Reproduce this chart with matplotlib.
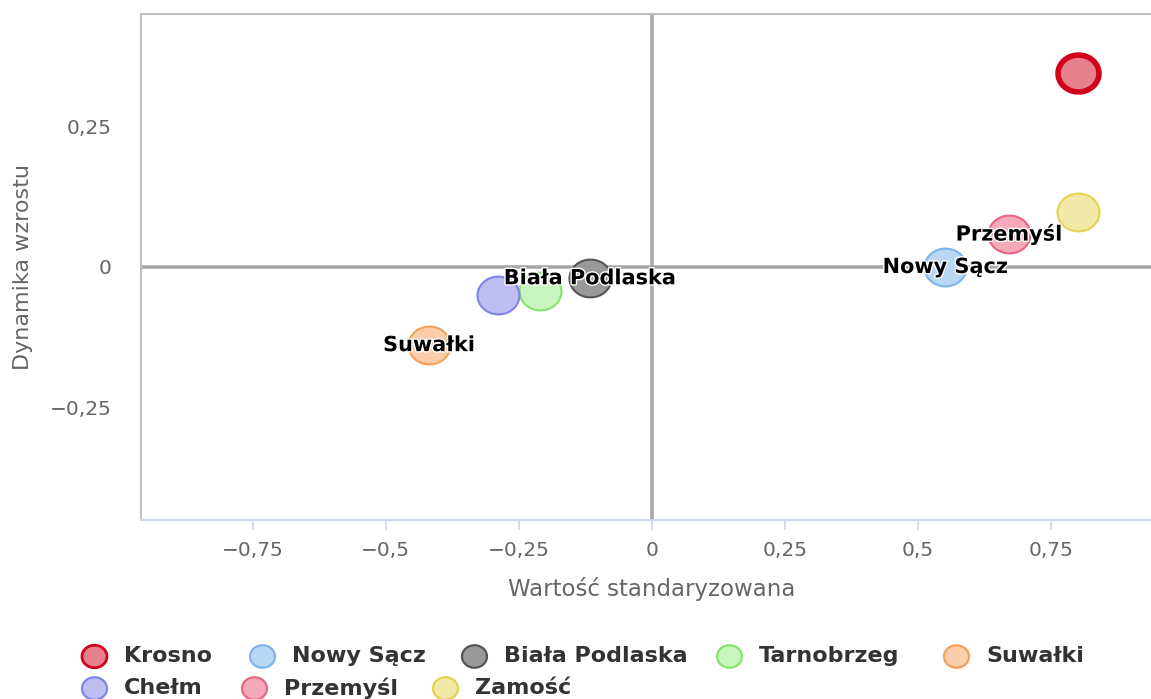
import matplotlib
matplotlib.use("Agg")
import matplotlib.pyplot as plt
from matplotlib.path import Path
from matplotlib.ticker import FixedLocator, FuncFormatter
import matplotlib.patheffects as pe
import numpy as np

# ---- data ----
names = ["Krosno", "Nowy Sącz", "Biała Podlaska", "Tarnobrzeg", "Suwałki",
         "Chełm", "Przemyśl", "Zamość"]
x_vals = [0.801, 0.551, -0.117, -0.211, -0.419, -0.289, 0.671, 0.801]
y_vals = [0.345, 0.000, -0.020, -0.043, -0.139, -0.050, 0.059, 0.098]
labelled = ["Nowy Sącz", "Biała Podlaska", "Suwałki", "Przemyśl"]
x_ticks = [-0.75, -0.5, -0.25, 0, 0.25, 0.5, 0.75]
y_ticks = [-0.25, 0, 0.25]

fills = ["#e6808d", "#b9d7f5", "#999999", "#c8f5be", "#fbcdaa",
         "#bebef2", "#f5aabb", "#f2e8a8"]
edges = ["#d0021b", "#7db4eb", "#555555", "#86e46e", "#f5a05a",
         "#8282ec", "#eb6482", "#e6d250"]
edge_w = [4.0, 1.5, 1.5, 1.5, 1.5, 1.5, 1.5, 1.5]

W, H = 1151, 699
plt.rcParams['font.family'] = ['DejaVu Sans']
fig = plt.figure(figsize=(W / 100, H / 100), dpi=100)

left_px, right_px, top_px, bot_px = 141, 1163, 14, 520
ax = fig.add_axes([left_px / W, 1 - bot_px / H, (right_px - left_px) / W,
                   (bot_px - top_px) / H])
ax.set_xlim(-0.96, 0.96)
ax.set_ylim(-0.45, 0.45)

t = np.linspace(0, 2 * np.pi, 64)
verts = np.column_stack([np.cos(t), 0.9 * np.sin(t)])
ell = Path(verts, closed=True)

ax.axhline(0, color="#a8a8a8", lw=2.6, zorder=1)
ax.axvline(0, color="#a8a8a8", lw=2.6, zorder=1)

for i, n in enumerate(names):
    size = 42 if i != 0 else 41
    ax.scatter([x_vals[i]], [y_vals[i]], s=(size * 0.72) ** 2, marker=ell,
               facecolor=fills[i], edgecolor=edges[i], linewidths=edge_w[i],
               zorder=3)

for n in labelled:
    i = names.index(n)
    ax.text(x_vals[i], y_vals[i], n, ha="center", va="center",
            fontsize=15, fontweight="bold", color="black", zorder=5,
            path_effects=[pe.withStroke(linewidth=2.0, foreground="white")])

for s in ["left", "top", "right"]:
    ax.spines[s].set_color("#c0c0c0")
    ax.spines[s].set_linewidth(1.5)
ax.spines["bottom"].set_color("#ccd6eb")
ax.spines["bottom"].set_linewidth(1.5)

fmt = FuncFormatter(lambda v, p: ("0" if v == 0 else ("%g" % v).replace(".", ",").replace("-", "\u2212")))
ax.xaxis.set_major_locator(FixedLocator(x_ticks))
ax.yaxis.set_major_locator(FixedLocator(y_ticks))
ax.xaxis.set_major_formatter(fmt)
ax.yaxis.set_major_formatter(fmt)
ax.tick_params(axis="x", length=7, width=1.2, color="#ccd6eb", labelsize=14.5,
               labelcolor="#666666", pad=8)
ax.tick_params(axis="y", length=0, labelsize=14.5, labelcolor="#666666", pad=21)

ax.set_xlabel("Wartość standaryzowana", fontsize=16.5, color="#666666")
ax.set_ylabel("Dynamika wzrostu", fontsize=16, color="#666666")
ax.xaxis.set_label_coords((652 - left_px) / (right_px - left_px), -(577 - bot_px) / (bot_px - top_px))
ax.yaxis.set_label_coords(-(141 - 33) / (right_px - left_px), 0.5)

leg_rows = [[0, 1, 2, 3, 4], [5, 6, 7]]
leg_marker_x = [[94, 262, 474, 729, 956], [94, 254, 445]]
leg_y = [656, 688]
for r, row in enumerate(leg_rows):
    for j, i in enumerate(row):
        mx = leg_marker_x[r][j]
        fig.lines.append(plt.Line2D([mx / W], [1 - leg_y[r] / H], transform=fig.transFigure,
                                    marker=ell, markersize=18, markerfacecolor=fills[i],
                                    markeredgecolor=edges[i], markeredgewidth=1.6 if i else 2.0,
                                    linestyle="none"))
        fig.text((mx + 30) / W, 1 - leg_y[r] / H, names[i], ha="left", va="center",
                 fontsize=16, fontweight="bold", color="#333333")

fig.savefig("out.png", dpi=100)
